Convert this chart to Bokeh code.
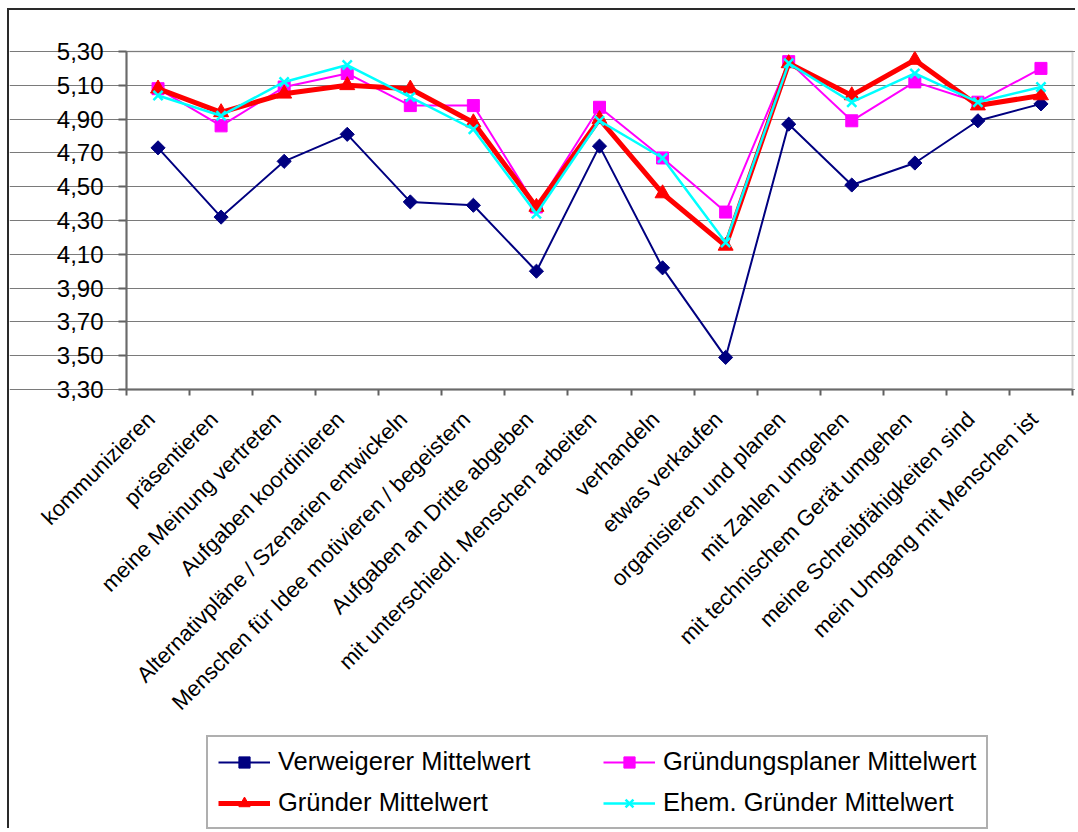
import math
from bokeh.plotting import figure
from bokeh.models import Range1d, FixedTicker, Legend, LegendItem, BoxAnnotation
from bokeh.embed import file_html
from bokeh.resources import INLINE

categories = [
    "kommunizieren",
    "präsentieren",
    "meine Meinung vertreten",
    "Aufgaben koordinieren",
    "Alternativpläne / Szenarien entwickeln",
    "Menschen für Idee motivieren / begeistern",
    "Aufgaben an Dritte abgeben",
    "mit unterschiedl. Menschen arbeiten",
    "verhandeln",
    "etwas verkaufen",
    "organisieren und planen",
    "mit Zahlen umgehen",
    "mit technischem Gerät umgehen",
    "meine Schreibfähigkeiten sind",
    "mein Umgang mit Menschen ist",
]

verweigerer = [4.73, 4.32, 4.65, 4.81, 4.41, 4.39, 4.00, 4.74, 4.02, 3.49, 4.87, 4.51, 4.64, 4.89, 4.99]
gruendungsplaner = [5.08, 4.86, 5.09, 5.17, 4.98, 4.98, 4.38, 4.97, 4.67, 4.35, 5.24, 4.89, 5.12, 5.00, 5.20]
gruender = [5.08, 4.94, 5.05, 5.10, 5.08, 4.88, 4.38, 4.90, 4.46, 4.15, 5.23, 5.04, 5.25, 4.98, 5.04]
ehem_gruender = [5.04, 4.92, 5.12, 5.22, 5.03, 4.84, 4.34, 4.89, 4.67, 4.17, 5.23, 5.00, 5.17, 5.00, 5.09]

series_names = [
    "Verweigerer Mittelwert",
    "Gründungsplaner Mittelwert",
    "Gründer Mittelwert",
    "Ehem. Gründer Mittelwert",
]

y_tick_labels = ["3,30", "3,50", "3,70", "3,90", "4,10", "4,30", "4,50", "4,70", "4,90", "5,10", "5,30"]

FONT = "Liberation Sans"

y_ticks = [float(s.replace(",", ".")) for s in y_tick_labels]
y_lo, y_hi = y_ticks[0], y_ticks[-1]
n = len(categories)
xs = [i + 0.5 for i in range(n)]

# layout geometry (pixels). The frame covers the whole canvas so that the
# axis labels and the legend can be drawn inside it; the plot area is the
# 946 x 338 px box from x = 0..n and y = 3.30..5.30.
FIG_W, FIG_H = 1068, 820
AREA_LEFT, AREA_TOP, AREA_W, AREA_H = 117, 41, 946, 338
ppu_y = AREA_H / (y_hi - y_lo)
ppu_x = AREA_W / n
y_top = y_hi + AREA_TOP / ppu_y
y_bottom = y_top - FIG_H / ppu_y
x_left = -AREA_LEFT / ppu_x
x_right = x_left + FIG_W / ppu_x
LABEL_DX = -7 / ppu_x   # small shift of the rotated labels along the text direction
label_pos = [x + LABEL_DX for x in xs]

p = figure(
    width=FIG_W, height=FIG_H,
    output_backend="svg", toolbar_location=None,
    x_range=Range1d(x_left, x_right), y_range=Range1d(y_bottom, y_top),
    min_border_left=0, min_border_right=0, min_border_top=0, min_border_bottom=0,
    background_fill_color="white", border_fill_color="white",
    styles={
        "margin-left": "7px", "margin-top": "8px",
        "border-left": "2px solid #2a2a2a", "border-top": "2px solid #2a2a2a",
    },
)
p.outline_line_color = None

# grid
p.xgrid.visible = False
p.ygrid.grid_line_color = "#7a7a7a"
p.ygrid.grid_line_width = 1.2
p.ygrid.ticker = FixedTicker(ticks=y_ticks)
p.ygrid.bounds = (0, n)

# plot-area outline
area = BoxAnnotation(left=0, right=n, bottom=y_lo, top=y_hi,
                     fill_alpha=0, line_color="#808080", line_width=2)
p.add_layout(area)

# y axis at x = 0
ya = p.yaxis[0]
ya.fixed_location = 0
ya.bounds = (y_lo, y_hi)
ya.ticker = FixedTicker(ticks=y_ticks)
ya.major_label_overrides = {t: s for t, s in zip(y_ticks, y_tick_labels)}
ya.major_label_text_font = FONT
ya.major_label_text_font_size = "24px"
ya.major_label_text_color = "black"
ya.axis_line_color = "#606060"
ya.axis_line_width = 2
ya.major_tick_line_color = "#606060"
ya.major_tick_line_width = 2
ya.major_tick_out = 8
ya.major_tick_in = 0
ya.minor_tick_line_color = None
ya.major_label_standoff = 15

# x axis at y = 3.30: labels at category centres, ticks at category boundaries
xa = p.xaxis[0]
xa.fixed_location = y_lo
xa.bounds = (0, n)
xa.ticker = FixedTicker(ticks=label_pos, minor_ticks=list(range(n + 1)))
xa.major_label_overrides = {x: c for x, c in zip(label_pos, categories)}
xa.major_label_orientation = math.pi / 4
xa.major_label_text_font = FONT
xa.major_label_text_font_size = "22px"
xa.major_label_text_color = "black"
xa.axis_line_color = "#606060"
xa.axis_line_width = 2
xa.major_tick_line_color = None
xa.major_tick_out = 6
xa.major_tick_in = 0
xa.minor_tick_line_color = "#606060"
xa.minor_tick_line_width = 2
xa.minor_tick_out = 6
xa.minor_tick_in = 0
xa.major_label_standoff = 20

# series
l1 = p.line(xs, verweigerer, line_color="#000080", line_width=2)
s1 = p.scatter(xs, verweigerer, marker="square", angle=math.pi / 4, size=10,
               fill_color="#000080", line_color="#000080")
l2 = p.line(xs, gruendungsplaner, line_color="#FF00FF", line_width=2)
s2 = p.scatter(xs, gruendungsplaner, marker="square", size=12,
               fill_color="#FF00FF", line_color="#FF00FF")
l3 = p.line(xs, gruender, line_color="#FF0000", line_width=5)
s3 = p.scatter(xs, gruender, marker="triangle", size=15,
               fill_color="#FF0000", line_color="#FF0000")
l4 = p.line(xs, ehem_gruender, line_color="#00FFFF", line_width=2.5)
s4 = p.scatter(xs, ehem_gruender, marker="x", size=13,
               line_color="#00FFFF", line_width=2.5)

legend = Legend(
    items=[
        LegendItem(label=series_names[0], renderers=[l1, s1]),
        LegendItem(label=series_names[1], renderers=[l2, s2]),
        LegendItem(label=series_names[2], renderers=[l3, s3]),
        LegendItem(label=series_names[3], renderers=[l4, s4]),
    ],
    orientation="horizontal",
    ncols=2,
    location=(197, 1),
    label_text_font=FONT,
    label_text_font_size="25.5px",
    label_text_color="black",
    label_standoff=8,
    label_width=313,
    glyph_width=52,
    glyph_height=28,
    spacing=12,
    padding=10,
    margin=0,
    border_line_color="#606060",
    border_line_width=2,
    background_fill_color="white",
    background_fill_alpha=1,
)
p.add_layout(legend, "center")

open("out.html", "w").write(file_html(p, INLINE))
